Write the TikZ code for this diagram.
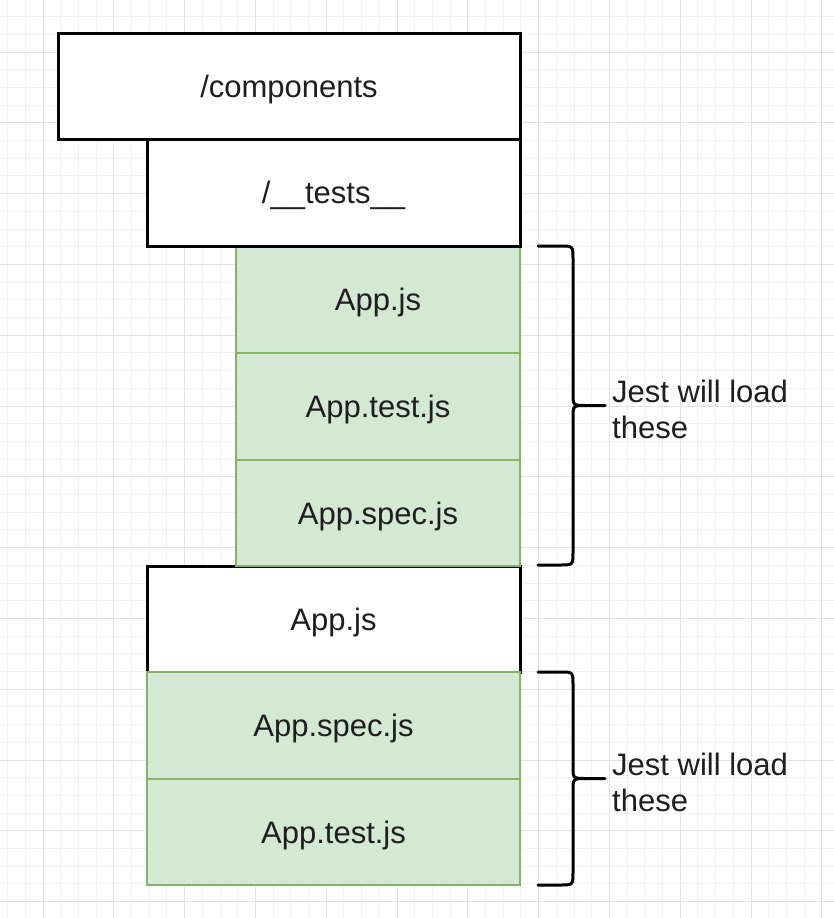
\documentclass[tikz,border=0pt]{standalone}
\usepackage{fontspec}
\setmainfont{Liberation Sans}
\definecolor{gfill}{HTML}{D5E8D4}
\definecolor{gline}{HTML}{82B366}
\definecolor{minorg}{HTML}{F1F1F1}
\definecolor{majorg}{HTML}{E3E3E3}
\definecolor{txt}{HTML}{1E1E1E}
\tikzset{
  minorgrid/.style={draw=minorg, line width=1pt},
  majorgrid/.style={draw=majorg, line width=1pt},
  boxtext/.style={rectangle, inner sep=0pt, text=txt, text height=22.5pt, text depth=0pt,
    font=\fontsize{31}{36}\selectfont},
  whitebox/.style={boxtext, draw=black, fill=white, line width=3pt},
  greenbox/.style={boxtext, draw=gline, fill=gfill, line width=2pt},
  bracestyle/.style={draw=black, line width=3pt, line cap=round, line join=round},
  label/.style={align=left, inner sep=0pt, anchor=west, text=txt,
    font=\fontsize{31}{36}\selectfont}
}
\begin{document}
\begin{tikzpicture}[x=1pt,y=-1pt]
\useasboundingbox (0,0) rectangle (834,918);
\fill[white] (0,0) rectangle (834,918);
% grid
\foreach \i in {0,...,47} \draw[minorgrid] ({7.6+17.7*\i},0) -- ({7.6+17.7*\i},918);
\foreach \i in {0,...,52} \draw[minorgrid] (0,{16.6+17.7*\i}) -- (834,{16.6+17.7*\i});
\foreach \i in {0,...,11} \draw[majorgrid] ({43+70.8*\i},0) -- ({43+70.8*\i},918);
\foreach \i in {0,...,12} \draw[majorgrid] (0,{52+70.8*\i}) -- (834,{52+70.8*\i});

% boxes
\node[whitebox, minimum width=462pt, minimum height=106pt] (comp) at (289,86) {/components};
\node[whitebox, minimum width=373pt, minimum height=106pt] (appjs) at (333.5,619) {App.js};
\node[greenbox, minimum width=284pt, minimum height=107pt] (g1) at (378,299.5) {App.js};
\node[greenbox, minimum width=284pt, minimum height=107pt] (g2) at (378,406.5) {App.test.js};
\node[greenbox, minimum width=284pt, minimum height=106pt] (g3) at (378,513) {App.spec.js};
\node[whitebox, minimum width=373pt, minimum height=107pt] (tests) at (333.5,192.5) {/\_\_tests\_\_};
\node[greenbox, minimum width=373pt, minimum height=107pt] (g4) at (333.5,725.5) {App.spec.js};
\node[greenbox, minimum width=373pt, minimum height=106pt] (g5) at (333.5,832) {App.test.js};

% braces
\coordinate (b1t) at (538,246);
\coordinate (b1m) at (605,405.5);
\coordinate (b1b) at (538,565);
\draw[bracestyle] (b1t) -- (560,246) .. controls (573,246) .. (573,259) -- (573,393)
  .. controls (573,405.5) .. (586,405.5) -- (b1m);
\draw[bracestyle] (b1b) -- (560,565) .. controls (573,565) .. (573,552) -- (573,418)
  .. controls (573,405.5) .. (586,405.5);
\node[label] (l1) at (612,409) {Jest will load\\these};

\coordinate (b2t) at (538,672);
\coordinate (b2m) at (605,778.5);
\coordinate (b2b) at (538,885);
\draw[bracestyle] (b2t) -- (560,672) .. controls (573,672) .. (573,685) -- (573,766)
  .. controls (573,778.5) .. (586,778.5) -- (b2m);
\draw[bracestyle] (b2b) -- (560,885) .. controls (573,885) .. (573,872) -- (573,791)
  .. controls (573,778.5) .. (586,778.5);
\node[label] (l2) at (612,782) {Jest will load\\these};
\end{tikzpicture}
\end{document}
